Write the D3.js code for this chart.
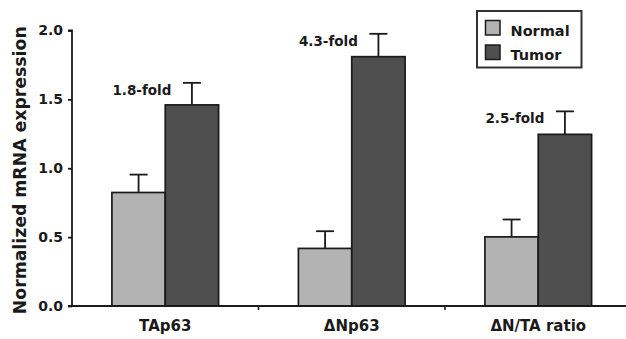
<!DOCTYPE html>
<html>
<head>
<meta charset="utf-8">
<script src="https://cdn.jsdelivr.net/npm/d3@7"></script>
<style>
  html, body { margin: 0; padding: 0; background: #fff; }
  svg { display: block; font-family: "DejaVu Sans", Verdana, sans-serif; font-weight: bold; }
</style>
</head>
<body>
<svg id="chart" width="626" height="339"></svg>
<script>
const categories = ["TAp63", "\u0394Np63", "\u0394N/TA ratio"];
const seriesNames = ["Normal", "Tumor"];
const normalValues = [0.824, 0.418, 0.502];
const tumorValues = [1.46, 1.81, 1.246];
const normalErrors = [0.13, 0.125, 0.126];
const tumorErrors = [0.16, 0.166, 0.167];
const foldLabels = ["1.8-fold", "4.3-fold", "2.5-fold"];
const yTicks = [0, 0.5, 1.0, 1.5, 2.0];
const colors = ["#b3b3b3", "#4f4f4f"];

const svg = d3.select("#chart");
const x0 = 72, x1 = 631.5, yBase = 306, yTop = 30.5;
const ink = "#1a1a1a";

const y = d3.scaleLinear().domain([0, 2]).range([yBase, yTop]);
const p = 0.428;
const x = d3.scaleBand().domain(categories).range([x0, x1]).paddingInner(p).paddingOuter(p / 2);
const xs = d3.scaleBand().domain(seriesNames).range([0, x.bandwidth()]);

const data = categories.map((c, i) => ({
  cat: c,
  vals: [
    { s: "Normal", v: normalValues[i], e: normalErrors[i] },
    { s: "Tumor", v: tumorValues[i], e: tumorErrors[i] }
  ],
  fold: foldLabels[i]
}));

const g = svg.append("g");
const groups = g.selectAll("g.cat").data(data).join("g")
  .attr("transform", d => `translate(${x(d.cat)},0)`);

groups.selectAll("g.err").data(d => d.vals).join("g").each(function(d) {
  const gg = d3.select(this);
  const cx = xs(d.s) + xs.bandwidth() / 2;
  gg.append("line").attr("x1", cx).attr("x2", cx)
    .attr("y1", y(d.v)).attr("y2", y(d.v + d.e))
    .attr("stroke", ink).attr("stroke-width", 1.8);
  gg.append("line").attr("x1", cx - 9).attr("x2", cx + 9)
    .attr("y1", y(d.v + d.e)).attr("y2", y(d.v + d.e))
    .attr("stroke", ink).attr("stroke-width", 1.8);
});

groups.selectAll("rect").data(d => d.vals).join("rect")
  .attr("x", d => xs(d.s))
  .attr("y", d => y(d.v))
  .attr("width", xs.bandwidth())
  .attr("height", d => y(0) - y(d.v))
  .attr("fill", (d, i) => colors[i])
  .attr("stroke", ink)
  .attr("stroke-width", 1.7);

groups.append("text")
  .attr("x", d => xs("Normal") + 0.5)
  .attr("y", d => y(d.vals[1].v + d.vals[1].e) + 11.8)
  .attr("font-size", 13.5)
  .attr("fill", ink)
  .text(d => d.fold);

const yAxis = d3.axisLeft(y).tickValues(yTicks).tickFormat(d3.format(".1f")).tickSize(4).tickPadding(5);
const ya = svg.append("g").attr("transform", `translate(${x0},0)`).call(yAxis);
ya.select(".domain").attr("stroke", ink).attr("stroke-width", 1.8).attr("d", `M-4,${yTop}H0V${yBase}H-4`);
ya.selectAll(".tick line").attr("stroke", ink).attr("stroke-width", 1.8);
ya.selectAll(".tick text").attr("font-size", 14).attr("fill", ink).attr("font-family", "DejaVu Sans").attr("font-weight", "bold");

const xAxis = d3.axisBottom(x).tickSize(0).tickPadding(14);
const xa = svg.append("g").attr("transform", `translate(0,${yBase})`).call(xAxis);
xa.select(".domain").attr("stroke", ink).attr("stroke-width", 1.8).attr("d", `M${x0},0H${x1}`);
xa.selectAll(".tick text").attr("font-size", 15).attr("fill", ink).attr("font-family", "DejaVu Sans").attr("font-weight", "bold");
const boundaries = categories.slice(1).map(c => x(c) - x.step() * x.paddingInner() / 2);
xa.selectAll("line.bnd").data(boundaries).join("line")
  .attr("x1", d => d).attr("x2", d => d).attr("y1", 0).attr("y2", 4)
  .attr("stroke", ink).attr("stroke-width", 1.6);

svg.append("text")
  .attr("transform", `translate(26,${(yTop + yBase) / 2 + 2}) rotate(-90)`)
  .attr("text-anchor", "middle")
  .attr("font-size", 17.3)
  .attr("fill", ink)
  .text("Normalized mRNA expression");

const lg = svg.append("g");
lg.append("rect").attr("x", 477).attr("y", 11).attr("width", 104.5).attr("height", 56.5)
  .attr("fill", "#fff").attr("stroke", "#333").attr("stroke-width", 2);
seriesNames.forEach((s, i) => {
  const yy = 20.5 + i * 24.5;
  lg.append("rect").attr("x", 485.5).attr("y", yy).attr("width", 14.5).attr("height", 14.5)
    .attr("fill", colors[i]).attr("stroke", ink).attr("stroke-width", 1.5);
  lg.append("text").attr("x", 510.5).attr("y", yy + 15).attr("font-size", 14.5)
    .attr("fill", ink).text(s);
});
</script>
</body>
</html>
